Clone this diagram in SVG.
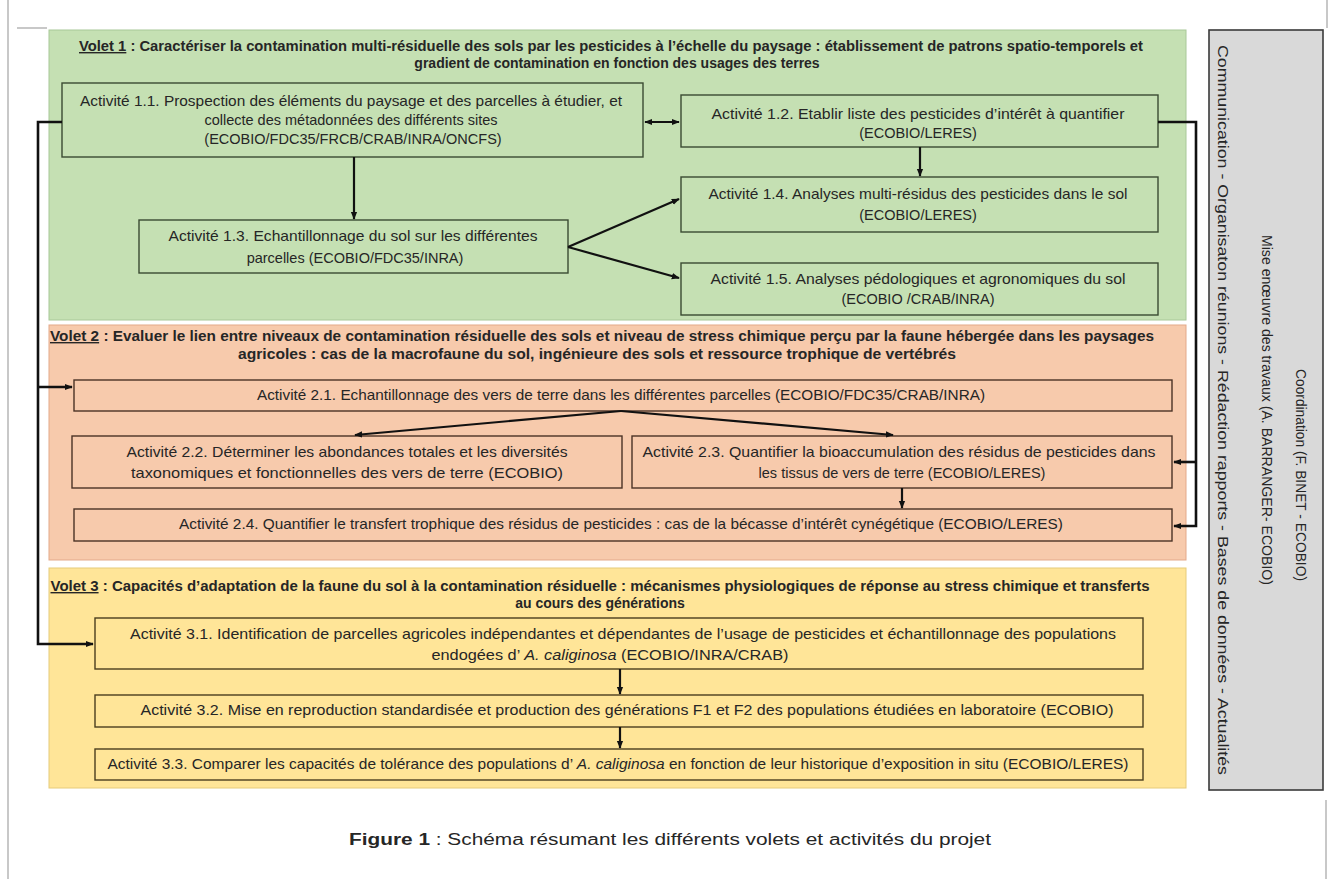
<svg xmlns="http://www.w3.org/2000/svg" width="1333" height="879" viewBox="0 0 1333 879">
<style>
text{font-family:"Liberation Sans",Arial,sans-serif;font-size:14.5px;fill:#262626;text-anchor:middle}
.t{font-weight:bold;font-size:14px}
.u{text-decoration:underline}
.i{font-style:italic}
.g{fill:#c5e0b3;stroke:#a8c898;stroke-width:1}
.o{fill:#f7caac;stroke:#e3a98a;stroke-width:1}
.y{fill:#ffe598;stroke:#e6cb7a;stroke-width:1}
.bg{fill:none;stroke:#3a4a32;stroke-width:1.4}
.bo{fill:none;stroke:#4a3326;stroke-width:1.4}
.by{fill:none;stroke:#4a3e1e;stroke-width:1.4}
.c{fill:none;stroke:#111;stroke-width:2.2}
.cm{fill:none;stroke:#111;stroke-width:2.6}
.side{font-size:14.5px}
.pg{stroke:#c8c8c8;stroke-width:2;fill:none}
</style>
<defs>
<marker id="ah" viewBox="0 0 10 10" refX="9" refY="5" markerWidth="8" markerHeight="8" markerUnits="userSpaceOnUse" orient="auto-start-reverse">
<path d="M0,1 L10,5 L0,9 z" fill="#111"/>
</marker>
</defs>
<rect width="1333" height="879" fill="#ffffff"/>
<g id="page">
<path class="pg" d="M8,0 V879"/>
<path class="pg" d="M17,28 H47"/>
<path class="pg" d="M1327,0 V28"/>
<path class="pg" d="M1326,800 V879"/>
</g>
<g id="volet1">
<rect class="g" x="49" y="30" width="1137" height="290"/>
<text class="t" x="611" y="51" textLength="1064" lengthAdjust="spacingAndGlyphs"><tspan class="u">Volet 1</tspan> : Caractériser la contamination multi-résiduelle des sols par les pesticides à l’échelle du paysage : établissement de patrons spatio-temporels et</text>
<text class="t" x="617" y="68">gradient de contamination en fonction des usages des terres</text>
</g>
<g id="volet2">
<rect class="o" x="49" y="325" width="1137" height="235"/>
<text class="t" x="602" y="341" textLength="1104" lengthAdjust="spacingAndGlyphs"><tspan class="u">Volet 2</tspan> : Evaluer le lien entre niveaux de contamination résiduelle des sols et niveau de stress chimique perçu par la faune hébergée dans les paysages</text>
<text class="t" x="597" y="359" textLength="718" lengthAdjust="spacingAndGlyphs">agricoles : cas de la macrofaune du sol, ingénieure des sols et ressource trophique de vertébrés</text>
</g>
<g id="volet3">
<rect class="y" x="49" y="568" width="1137" height="220"/>
<text class="t" x="600" y="591" textLength="1099" lengthAdjust="spacingAndGlyphs"><tspan class="u">Volet 3</tspan> : Capacités d’adaptation de la faune du sol à la contamination résiduelle : mécanismes physiologiques de réponse au stress chimique et transferts</text>
<text class="t" x="600" y="608">au cours des générations</text>
</g>
<g id="a11">
<rect class="bg" x="62" y="83" width="581" height="74"/>
<text x="351" y="106" textLength="542" lengthAdjust="spacingAndGlyphs">Activité 1.1. Prospection des éléments du paysage et des parcelles à étudier, et</text>
<text x="351" y="125">collecte des métadonnées des différents sites</text>
<text x="353" y="144">(ECOBIO/FDC35/FRCB/CRAB/INRA/ONCFS)</text>
</g>
<g id="a12">
<rect class="bg" x="681" y="95" width="477" height="52"/>
<text x="918" y="119" textLength="413" lengthAdjust="spacingAndGlyphs">Activité 1.2. Etablir liste des pesticides d’intérêt à quantifier</text>
<text x="918" y="138">(ECOBIO/LERES)</text>
</g>
<g id="a13">
<rect class="bg" x="139" y="220" width="429" height="53"/>
<text x="353" y="241" textLength="369" lengthAdjust="spacingAndGlyphs">Activité 1.3. Echantillonnage du sol sur les différentes</text>
<text x="355" y="263">parcelles (ECOBIO/FDC35/INRA)</text>
</g>
<g id="a14">
<rect class="bg" x="681" y="177" width="477" height="55"/>
<text x="918" y="199" textLength="419" lengthAdjust="spacingAndGlyphs">Activité 1.4. Analyses multi-résidus des pesticides dans le sol</text>
<text x="918" y="220">(ECOBIO/LERES)</text>
</g>
<g id="a15">
<rect class="bg" x="681" y="263" width="477" height="52"/>
<text x="918" y="284" textLength="415" lengthAdjust="spacingAndGlyphs">Activité 1.5. Analyses pédologiques et agronomiques du sol</text>
<text x="918" y="304">(ECOBIO /CRAB/INRA)</text>
</g>
<g id="a21">
<rect class="bo" x="74" y="380" width="1098" height="31"/>
<text x="621" y="400" textLength="728" lengthAdjust="spacingAndGlyphs">Activité 2.1. Echantillonnage des vers de terre dans les différentes parcelles (ECOBIO/FDC35/CRAB/INRA)</text>
</g>
<g id="a22">
<rect class="bo" x="72" y="436" width="550" height="52"/>
<text x="347" y="457" textLength="441" lengthAdjust="spacingAndGlyphs">Activité 2.2. Déterminer les abondances totales et les diversités</text>
<text x="347" y="478" textLength="432" lengthAdjust="spacingAndGlyphs">taxonomiques et fonctionnelles des vers de terre (ECOBIO)</text>
</g>
<g id="a23">
<rect class="bo" x="632" y="436" width="540" height="52"/>
<text x="899" y="457" textLength="513" lengthAdjust="spacingAndGlyphs">Activité 2.3. Quantifier la bioaccumulation des résidus de pesticides dans</text>
<text x="902" y="478">les tissus de vers de terre (ECOBIO/LERES)</text>
</g>
<g id="a24">
<rect class="bo" x="74" y="509" width="1098" height="32"/>
<text x="621" y="529" textLength="884" lengthAdjust="spacingAndGlyphs">Activité 2.4. Quantifier le transfert trophique des résidus de pesticides : cas de la bécasse d’intérêt cynégétique (ECOBIO/LERES)</text>
</g>
<g id="a31">
<rect class="by" x="95" y="618" width="1048" height="51"/>
<text x="623" y="639" textLength="986" lengthAdjust="spacingAndGlyphs">Activité 3.1. Identification de parcelles agricoles indépendantes et dépendantes de l’usage de pesticides  et échantillonnage des populations</text>
<text x="610" y="660" textLength="357" lengthAdjust="spacingAndGlyphs">endogées d’ <tspan class="i">A. caliginosa</tspan> (ECOBIO/INRA/CRAB)</text>
</g>
<g id="a32">
<rect class="by" x="95" y="695" width="1048" height="32"/>
<text x="627" y="715" textLength="973" lengthAdjust="spacingAndGlyphs">Activité 3.2. Mise en reproduction standardisée et production des générations F1 et F2 des populations étudiées en laboratoire (ECOBIO)</text>
</g>
<g id="a33">
<rect class="by" x="95" y="749" width="1048" height="31"/>
<text x="618" y="769" textLength="1021" lengthAdjust="spacingAndGlyphs">Activité 3.3. Comparer les capacités de tolérance des populations d’ <tspan class="i">A. caliginosa</tspan> en fonction de leur historique d’exposition in situ (ECOBIO/LERES)</text>
</g>
<g id="coordination">
<rect x="1209" y="30" width="114" height="760" fill="#d9d9d9" stroke="#3a3a3a" stroke-width="1.6"/>
<text class="side" transform="translate(1296,475) rotate(90)" textLength="212" lengthAdjust="spacingAndGlyphs">Coordination (F. BINET - ECOBIO)</text>
<text class="side" transform="translate(1262,410) rotate(90)" textLength="350" lengthAdjust="spacingAndGlyphs">Mise enœuvre des travaux (A. BARRANGER- ECOBIO)</text>
<text class="side" transform="translate(1218,410) rotate(90)" textLength="730" lengthAdjust="spacingAndGlyphs">Communication - Organisaton réunions - Rédaction rapports - Bases de données - Actualités</text>
</g>
<g id="connectors">
<path class="c" d="M645,122 H679" marker-start="url(#ah)" marker-end="url(#ah)"/>
<path class="c" d="M354,157 V219" marker-end="url(#ah)"/>
<path class="c" d="M920,147 V176" marker-end="url(#ah)"/>
<path class="c" d="M568,247 L679,199" marker-end="url(#ah)"/>
<path class="c" d="M568,247 L679,278" marker-end="url(#ah)"/>
<path class="cm" d="M62,122 H38 V644 H93" marker-end="url(#ah)"/>
<path class="cm" d="M38,387 H72" marker-end="url(#ah)"/>
<path class="cm" d="M1158,122 H1196 V526 H1174" marker-end="url(#ah)"/>
<path class="cm" d="M1196,462 H1174" marker-end="url(#ah)"/>
<path class="c" d="M621,411 L355,435" marker-end="url(#ah)"/>
<path class="c" d="M621,411 L893,435" marker-end="url(#ah)"/>
<path class="c" d="M902,488 V508" marker-end="url(#ah)"/>
<path class="c" d="M620,669 V694" marker-end="url(#ah)"/>
<path class="c" d="M620,727 V748" marker-end="url(#ah)"/>
</g>
<g id="caption">
<text x="670" y="845" style="font-size:16px" textLength="642" lengthAdjust="spacingAndGlyphs"><tspan class="t" style="font-size:16px">Figure 1</tspan> : Schéma résumant les différents volets et activités du projet</text>
</g>
</svg>
